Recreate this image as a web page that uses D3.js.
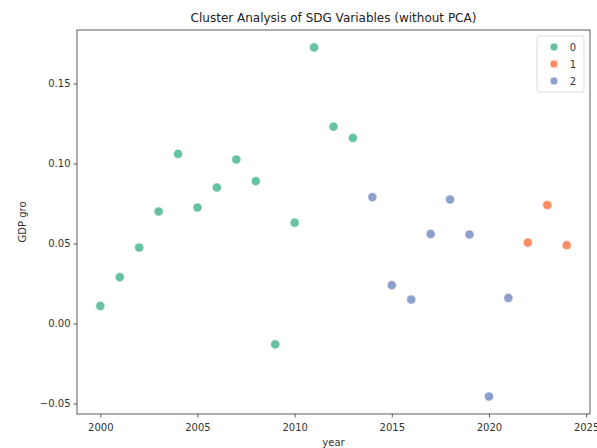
<!DOCTYPE html>
<html>
<head>
<meta charset="utf-8">
<script src="https://cdn.jsdelivr.net/npm/d3@7"></script>
<style>
  body { margin: 0; background: #fff; }
  svg { font-family: "DejaVu Sans", sans-serif; }
</style>
</head>
<body>
<div id="chart"></div>
<script>
var width = 597;
var height = 448;
var margin = {top: 30, left: 77, right: 7, bottom: 34};

var years = [2000, 2001, 2002, 2003, 2004, 2005, 2006, 2007, 2008, 2009, 2010, 2011, 2012,
  2013, 2014, 2015, 2016, 2017, 2018, 2019, 2020, 2021, 2022, 2023, 2024];
var gdpGrowth = [0.011, 0.029, 0.0475, 0.070, 0.106, 0.0725, 0.085, 0.1025, 0.089, -0.013,
  0.063, 0.1725, 0.123, 0.116, 0.079, 0.024, 0.015, 0.056, 0.0775, 0.0556, -0.0456, 0.016,
  0.0506, 0.074, 0.049];
var clusters = [0, 0, 0, 0, 0, 0, 0, 0, 0, 0, 0, 0, 0, 0, 2, 2, 2, 2, 2, 2, 2, 2, 1, 1, 1];
var clusterLabels = ["0", "1", "2"];
var clusterColors = ["#66c2a5", "#fc8d62", "#8da0cb"];
var xTicks = [2000, 2005, 2010, 2015, 2020, 2025];
var yTicks = [-0.05, 0.00, 0.05, 0.10, 0.15];

var data = years.map(function(y, i) {
  return {year: y, gdp: gdpGrowth[i], cluster: clusters[i]};
});

var svg = d3.select("#chart")
  .append("svg")
  .attr("width", width)
  .attr("height", height);

// matplotlib style 5% margins around the data
var xPad = (d3.max(years) - d3.min(years)) * 0.05;
var yPad = (d3.max(gdpGrowth) - d3.min(gdpGrowth)) * 0.05;

var xScale = d3.scaleLinear()
  .domain([d3.min(years) - xPad, d3.max(years) + xPad])
  .range([margin.left, width - margin.right]);

var yScale = d3.scaleLinear()
  .domain([d3.min(gdpGrowth) - yPad, d3.max(gdpGrowth) + yPad])
  .range([height - margin.bottom, margin.top]);

var color = d3.scaleOrdinal()
  .domain([0, 1, 2])
  .range(clusterColors);

var xAxis = svg.append("g")
  .attr("transform", `translate(0,${height - margin.bottom})`)
  .call(d3.axisBottom(xScale).tickValues(xTicks).tickFormat(d3.format("d")).tickSize(3.5).tickSizeOuter(0));

var yAxis = svg.append("g")
  .attr("transform", `translate(${margin.left},0)`)
  .call(d3.axisLeft(yScale).tickValues(yTicks).tickFormat(function(d) {
    return d3.format(".2f")(d).replace("-", "\u2212");
  }).tickSize(3.5).tickSizeOuter(0));

svg.selectAll(".tick text")
  .attr("font-size", 10)
  .attr("fill", "#333")
  .attr("font-family", "DejaVu Sans, sans-serif");
xAxis.selectAll(".tick text").attr("dy", "1.05em");
svg.selectAll(".domain").remove();
svg.selectAll(".tick line").attr("stroke", "#333").attr("stroke-width", 0.8);

// frame
svg.append("rect")
  .attr("x", margin.left)
  .attr("y", margin.top)
  .attr("width", width - margin.left - margin.right)
  .attr("height", height - margin.top - margin.bottom)
  .attr("fill", "none")
  .attr("stroke", "#333")
  .attr("stroke-width", 0.8);

svg.selectAll("circle.pt")
  .data(data)
  .enter()
  .append("circle")
    .attr("class", "pt")
    .attr("cx", function(d) { return xScale(d.year); })
    .attr("cy", function(d) { return yScale(d.gdp); })
    .attr("r", 4.6)
    .attr("fill", function(d) { return color(d.cluster); })
    .attr("stroke", "#fff")
    .attr("stroke-width", 0.6);

svg.append("text")
  .attr("x", (margin.left + width - margin.right) / 2)
  .attr("y", 22)
  .attr("text-anchor", "middle")
  .attr("font-size", 12)
  .attr("fill", "#222")
  .text("Cluster Analysis of SDG Variables (without PCA)");

svg.append("text")
  .attr("x", (margin.left + width - margin.right) / 2)
  .attr("y", 446)
  .attr("text-anchor", "middle")
  .attr("font-size", 10)
  .attr("fill", "#333")
  .text("year");

svg.append("text")
  .attr("transform", `translate(26,${(margin.top + height - margin.bottom) / 2}) rotate(-90)`)
  .attr("text-anchor", "middle")
  .attr("font-size", 10)
  .attr("fill", "#333")
  .text("GDP gro");

// legend
var legend = svg.append("g");
legend.append("rect")
  .attr("x", 537)
  .attr("y", 36)
  .attr("width", 47)
  .attr("height", 56)
  .attr("rx", 2)
  .attr("fill", "#fff")
  .attr("fill-opacity", 0.8)
  .attr("stroke", "#ddd");

var items = legend.selectAll("g.item")
  .data(clusterLabels)
  .enter()
  .append("g")
    .attr("class", "item")
    .attr("transform", function(d, i) { return `translate(554,${47 + i * 17})`; });

items.append("circle")
  .attr("r", 4)
  .attr("fill", function(d, i) { return clusterColors[i]; })
  .attr("stroke", "#fff")
  .attr("stroke-width", 0.6);

items.append("text")
  .attr("x", 19)
  .attr("y", 3.5)
  .attr("text-anchor", "middle")
  .attr("font-size", 10)
  .attr("fill", "#333")
  .text(function(d) { return d; });
</script>
</body>
</html>
